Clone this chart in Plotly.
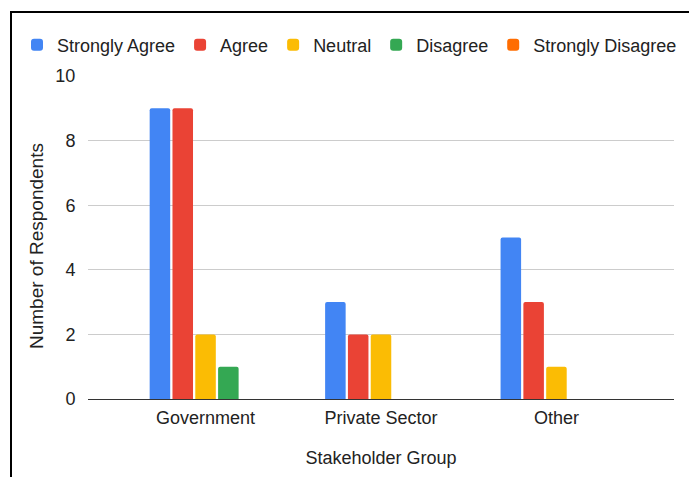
import plotly.graph_objects as go

# Survey responses by stakeholder group
groups = ["Government", "Private Sector", "Other"]
strongly_agree = [9, 3, 5]
agree = [9, 2, 3]
neutral = [2, 2, 1]
disagree = [1, 0, 0]
strongly_disagree = [0, 0, 0]

series = [
    ("Strongly Agree", strongly_agree, "#4285F4"),
    ("Agree", agree, "#EA4335"),
    ("Neutral", neutral, "#FBBC04"),
    ("Disagree", disagree, "#34A853"),
    ("Strongly Disagree", strongly_disagree, "#FF6D01"),
]

W, H = 689, 477
ML, MR, MT, MB = 88, 15, 76, 78
PW, PH = W - ML - MR, H - MT - MB


def px_x(x):
    return (x - ML) / PW


def px_y(y):
    return (H - MB - y) / PH


fig = go.Figure()
for name, vals, color in series:
    fig.add_trace(go.Bar(
        name=name, x=groups, y=vals,
        marker=dict(color=color, line=dict(width=0)),
    ))

font = "Liberation Sans, Arial, sans-serif"
text_color = "#222222"

fig.update_layout(
    width=W, height=H,
    margin=dict(l=ML, r=MR, t=MT, b=MB),
    paper_bgcolor="white", plot_bgcolor="white",
    font=dict(family=font, size=18, color=text_color),
    barmode="group", bargap=0.35, bargroupgap=0.1,
    barcornerradius=2,
    showlegend=True,
    legend=dict(
        orientation="h", x=px_x(17), xanchor="left",
        y=px_y(45), yanchor="middle",
        font=dict(size=18, color=text_color),
        bgcolor="rgba(0,0,0,0)", traceorder="normal",
    ),
    xaxis=dict(
        range=[-0.67, 2.67],
        showgrid=False, showline=True, linecolor="#333333", linewidth=1,
        ticks="outside", ticklen=2, tickcolor="rgba(0,0,0,0)",
        tickfont=dict(size=18, color=text_color),
        title=dict(text="Stakeholder Group", font=dict(size=18, color=text_color), standoff=24),
        fixedrange=True,
    ),
    yaxis=dict(
        range=[0, 10], dtick=2,
        showgrid=True, gridcolor="#CCCCCC", gridwidth=1,
        zeroline=False, showline=False,
        ticks="outside", ticklen=8, tickcolor="rgba(0,0,0,0)",
        tickfont=dict(size=18, color=text_color),
        fixedrange=True,
    ),
    annotations=[dict(
        text="Number of Respondents", textangle=-90,
        xref="paper", yref="paper", x=px_x(36), y=px_y(246),
        xanchor="center", yanchor="middle", showarrow=False,
        font=dict(size=19, color=text_color),
    )],
    shapes=[dict(
        type="rect", xref="paper", yref="paper",
        x0=px_x(11), x1=px_x(W + 20), y0=px_y(H + 20), y1=px_y(12),
        line=dict(color="black", width=2), fillcolor="rgba(0,0,0,0)",
        layer="above",
    )],
)

fig.write_html("out.html")
